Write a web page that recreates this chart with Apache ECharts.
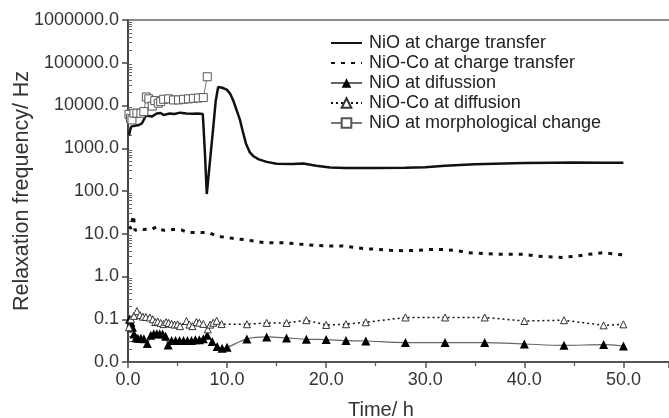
<!DOCTYPE html>
<html>
<head>
<meta charset="utf-8">
<script src="https://cdn.jsdelivr.net/npm/echarts@6/dist/echarts.min.js"></script>
<style>
html,body{margin:0;padding:0;background:#fff;}
#chart{width:669px;height:418px;}
</style>
</head>
<body>
<div id="chart"></div>
<script>
// ---- Data ----
const seriesNames = ['NiO at charge transfer','NiO-Co at charge transfer','NiO at difussion','NiO-Co at diffusion','NiO at morphological change'];

const ctNiO_t = [0.1,0.15,0.3,0.5,0.8,1.1,1.4,1.6,1.8,2.0,2.4,2.9,3.3,3.6,4.2,4.7,5.25,5.9,6.5,7.0,7.55,7.75,7.95,8.3,8.6,8.85,9.1,9.5,9.97,10.3,10.6,10.9,11.3,11.6,11.9,12.3,12.7,13.2,14,15,16.6,17.7,19,20.4,22,25,28,30,32,35,38,40,43,45,48,50];
const ctNiO_v = [2000,2100,3200,3300,3400,3500,3800,4000,5800,5400,5500,6500,6700,6000,6500,6300,6800,6500,6400,6500,6300,900,85,580,3000,12600,27000,26000,23500,19000,13500,8500,4600,2400,1300,800,640,550,480,435,430,440,390,355,345,345,350,360,390,420,440,450,460,465,460,455];

const ctCo_t = [0.15,0.3,0.45,0.55,0.7,1.0,1.3,1.6,2.0,2.4,2.9,3.3,3.7,4.0,4.5,5.0,5.4,5.9,6.3,7.0,7.6,8.2,9.0,9.6,10.8,12.1,13.7,15.7,17.7,19.8,21.6,23.7,25.3,26.5,27.9,29.3,30.5,31.8,33.3,34.4,35.9,37.2,38.5,39.9,41.3,42.5,43.8,45.3,46.5,47.9,49.4,50];
const ctCo_v = [15,13,22,27,12,12.5,13,12.5,13,12.7,14.5,12.5,12,12.2,12.5,12.5,12.3,11,10.7,10.7,10.7,10.5,8.7,8.4,7.7,7.1,6.2,6.2,5.6,5.2,5.2,4.5,4.3,4.1,4.0,4.1,4.3,4.3,4.0,3.6,3.45,3.3,3.3,3.3,3.0,2.9,2.8,3.0,3.3,3.6,3.3,3.2];

const difNiO_t = [0.15,0.3,0.45,0.6,0.8,1.0,1.3,1.6,1.95,2.3,2.6,2.9,3.2,3.5,3.8,4.05,4.4,4.8,5.2,5.6,6.0,6.4,6.8,7.2,7.6,8.0,8.5,9.0,9.5,10.0,12,14,16,18,20,22,24,28,32,36,40,44,48,50];
const difNiO_v = [0.1,0.085,0.065,0.045,0.037,0.036,0.036,0.035,0.027,0.042,0.046,0.046,0.046,0.045,0.04,0.025,0.032,0.032,0.032,0.032,0.032,0.032,0.033,0.033,0.035,0.042,0.03,0.023,0.021,0.022,0.0346,0.0385,0.0365,0.034,0.0335,0.0317,0.031,0.0285,0.0285,0.0285,0.0264,0.0245,0.0255,0.0237];

const difCo_t = [0.1,0.3,0.6,0.9,1.2,1.5,1.8,2.2,2.5,2.75,3.0,3.3,3.6,3.85,4.1,4.4,4.7,5.0,5.25,5.9,6.2,6.5,6.9,7.2,7.6,8.05,8.3,8.6,8.95,9.45,12,14,16,18,20,22,24,28,32,36,40,44,48,50];
const difCo_v = [0.065,0.1,0.12,0.155,0.125,0.115,0.113,0.11,0.1,0.086,0.088,0.082,0.077,0.086,0.082,0.078,0.075,0.076,0.069,0.091,0.075,0.069,0.086,0.083,0.078,0.058,0.075,0.083,0.092,0.077,0.0764,0.082,0.082,0.095,0.0735,0.0764,0.085,0.11,0.11,0.11,0.091,0.095,0.072,0.076];

const morph_t = [0.1,0.25,0.4,0.6,0.9,1.3,1.6,1.85,2.1,2.45,2.7,3.05,3.3,3.6,4.1,4.6,5.1,5.6,6.1,6.6,7.1,7.6,8.0];
const morph_v = [6200,5000,4600,6600,6600,6600,7200,15800,14300,9700,13000,11300,12300,14000,14300,13500,13500,14000,14300,14700,15000,15300,47000];

const xTicks = [0,10,20,30,40,50];
const yTickLabels = ['0.0','0.1','1.0','10.0','100.0','1000.0','10000.0','100000.0','1000000.0'];

// ---- Chart ----
const FONT = 'Liberation Sans, Arial, sans-serif';
const pair = (t, v) => t.map((x, i) => [x, v[i]]);

const chart = echarts.init(document.getElementById('chart'), null, {renderer: 'canvas'});
chart.setOption({
  animation: false,
  backgroundColor: '#fff',
  textStyle: {fontFamily: FONT},
  grid: {left: 128, top: 20, right: 0, bottom: 56, containLabel: false, outerBoundsMode: 'none'},
  legend: {
    orient: 'vertical',
    left: 325, top: 29,
    itemWidth: 31, itemHeight: 12, itemGap: 2,
    textStyle: {fontFamily: FONT, fontSize: 18, color: '#222', lineHeight: 18, padding: [0,0,0,2]},
    data: [
      {name: seriesNames[0], itemStyle: {opacity: 0}},
      {name: seriesNames[1], itemStyle: {opacity: 0}},
      {name: seriesNames[2]},
      {name: seriesNames[3]},
      {name: seriesNames[4]}
    ]
  },
  graphic: [{
    type: 'text', left: 348, top: 400,
    style: {text: 'Time/ h', font: '20px ' + FONT, fill: '#333'}
  }],
  xAxis: [{
    type: 'value', min: 0, max: 54.6, interval: 10, position: 'bottom',
    axisLine: {show: true, onZero: false, lineStyle: {color: '#555', width: 2}},
    axisTick: {show: true, length: 6, lineStyle: {color: '#555', width: 1.5}},
    minorTick: {show: true, splitNumber: 2, length: 4, lineStyle: {color: '#555', width: 1.2}},
    splitLine: {show: false},
    axisLabel: {
      fontSize: 18, color: '#333', margin: 9, showMaxLabel: false,
      formatter: v => (xTicks.indexOf(v) >= 0 ? v.toFixed(1) : '')
    }
  }, {
    type: 'value', min: 0, max: 54.6, position: 'top',
    axisLine: {show: true, onZero: false, lineStyle: {color: '#666', width: 1.5}},
    axisTick: {show: false}, axisLabel: {show: false}, splitLine: {show: false}
  }],
  yAxis: [{
    type: 'log', logBase: 10, min: 0.01, max: 1000000,
    name: 'Relaxation frequency/ Hz', nameLocation: 'middle', nameGap: 95, nameMoveOverlap: false,
    nameTextStyle: {fontSize: 21.5, color: '#333', fontFamily: FONT},
    axisLine: {show: true, onZero: false, lineStyle: {color: '#444', width: 2}},
    axisTick: {show: true, length: 6, lineStyle: {color: '#444', width: 1.5}},
    splitLine: {show: false},
    axisLabel: {
      fontSize: 18, color: '#333', margin: 9,
      formatter: v => {
        const idx = Math.round(Math.log10(v)) + 2;
        return yTickLabels[idx] !== undefined ? yTickLabels[idx] : '';
      }
    }
  }, {
    type: 'log', logBase: 10, min: 0.01, max: 1000000, position: 'left',
    axisLine: {show: false},
    axisTick: {show: false, inside: true},
    minorTick: {show: true, splitNumber: 9, length: 4, lineStyle: {color: '#666', width: 1}},
    axisLabel: {show: false}, splitLine: {show: false}
  }],
  series: [{
    name: seriesNames[0], type: 'line', data: pair(ctNiO_t, ctNiO_v),
    symbol: 'none', smooth: false,
    lineStyle: {color: '#111', width: 2.5}, itemStyle: {color: '#111'}, z: 3
  }, {
    name: seriesNames[1], type: 'line', data: pair(ctCo_t, ctCo_v),
    symbol: 'none',
    lineStyle: {color: '#111', width: 3, type: [4, 6]}, itemStyle: {color: '#111'}, z: 3
  }, {
    name: seriesNames[2], type: 'line', data: pair(difNiO_t, difNiO_v),
    symbol: 'triangle', symbolSize: 9, smooth: 0.3,
    lineStyle: {color: '#666', width: 1.2}, itemStyle: {color: '#000'}, z: 4
  }, {
    name: seriesNames[3], type: 'line', data: pair(difCo_t, difCo_v),
    symbol: 'triangle', symbolSize: 7,
    lineStyle: {color: '#111', width: 1.5, type: [2, 3]},
    itemStyle: {color: '#fff', borderColor: '#333', borderWidth: 1}, z: 4
  }, {
    name: seriesNames[4], type: 'line', data: pair(morph_t, morph_v),
    symbol: 'rect', symbolSize: 8,
    lineStyle: {color: '#777', width: 1},
    itemStyle: {color: '#fff', borderColor: '#555', borderWidth: 1}, z: 5
  }]
});
</script>
</body>
</html>
